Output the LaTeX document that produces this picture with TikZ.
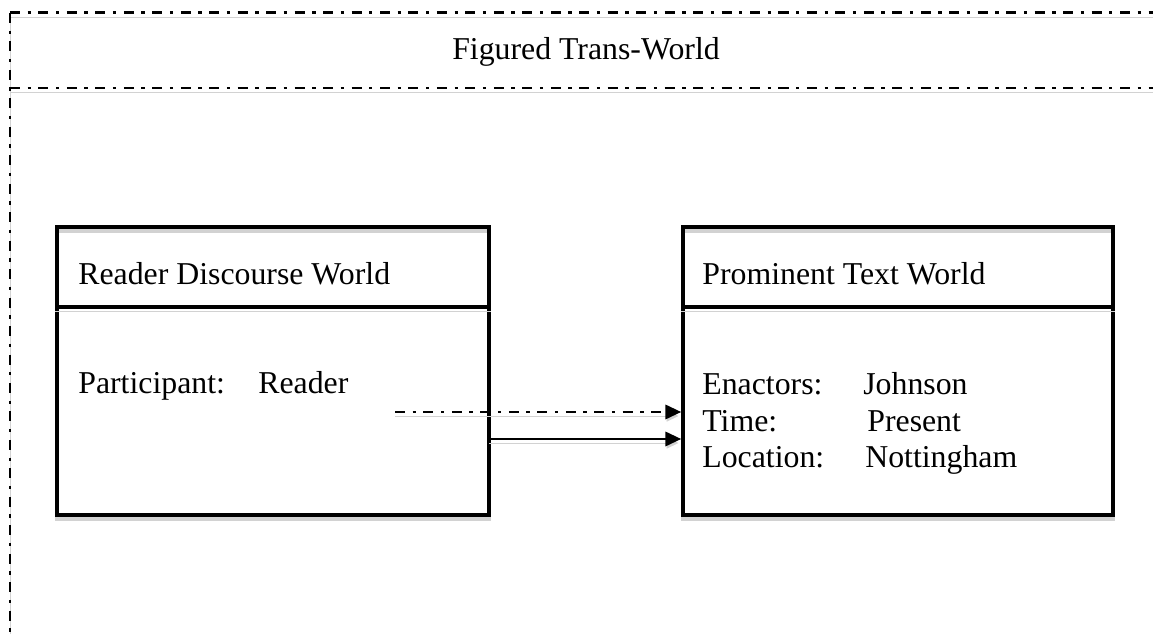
\documentclass[tikz,border=0pt]{standalone}
\usepackage{fontspec}
\setmainfont{Liberation Serif}
\usetikzlibrary{arrows.meta,positioning}

\tikzset{
  shade line/.style={preaction={draw=gray!35, transform canvas={yshift=-2.3pt}}},
  dashdot line/.style={line width=1.7pt, dash pattern=on 5.7pt off 4.3pt on 1.9pt off 4.3pt},
  worldbox/.style={draw, line width=2pt, shade line, inner sep=0pt},
  txt/.style={inner sep=0pt, anchor=base west, font=\fontsize{18.1}{21.7}\selectfont},
  tip/.style={-{Triangle[length=9pt,width=8pt]}}
}

\begin{document}
\begin{tikzpicture}[x=0.02cm, y=-0.02cm]
\useasboundingbox (0,0) rectangle (1153,634);
% frame of the trans-world
\coordinate (ftl) at (10,13);
\coordinate (ftr) at (1153,13);
\coordinate (fml) at (10,88);
\coordinate (fmr) at (1153,88);
\coordinate (fbl) at (10,634);
\draw [dashdot line, shade line] (ftl) -- (ftr);
\draw [dashdot line, shade line] (fml) -- (fmr);
\draw [dashdot line, shade line] (ftl) -- (fbl);
\node [txt, anchor=base] (ttl) at (586,60) {Figured Trans-World};
% the two worlds
\node [worldbox, minimum width=8.64cm, minimum height=5.76cm] (rdw) at (273,371) {};
\node [worldbox, minimum width=8.6cm, minimum height=5.76cm] (ptw) at (898,371) {};
\coordinate (rdwdiv) at (273,307);
\coordinate (ptwdiv) at (898,307);
\draw [line width=2pt, shade line] (rdw.west |- rdwdiv) -- (rdw.east |- rdwdiv);
\draw [line width=2pt, shade line] (ptw.west |- ptwdiv) -- (ptw.east |- ptwdiv);
\node [txt] (rdwname) at (78,285) {Reader Discourse World};
\node [txt] (ptwname) at (702,285) {Prominent Text World};
\node [txt] (part) at (78,394) {Participant:};
\node [txt] (partval) at (258,394) {Reader};
\node [txt] (enac) at (702,395) {Enactors:};
\node [txt] (enacval) at (863,395) {Johnson};
\node [txt] (time) at (702,432) {Time:};
\node [txt] (timeval) at (867,432) {Present};
\node [txt] (loc) at (702,468) {Location:};
\node [txt] (locval) at (865,468) {Nottingham};
% connectors
\coordinate (dstart) at (395,412);
\coordinate (sstart) at (489,439);
\draw [dashdot line, tip, shade line] (dstart) -- (dstart -| ptw.west);
\draw [line width=1.7pt, tip, shade line] (sstart) -- (sstart -| ptw.west);
\end{tikzpicture}
\end{document}
